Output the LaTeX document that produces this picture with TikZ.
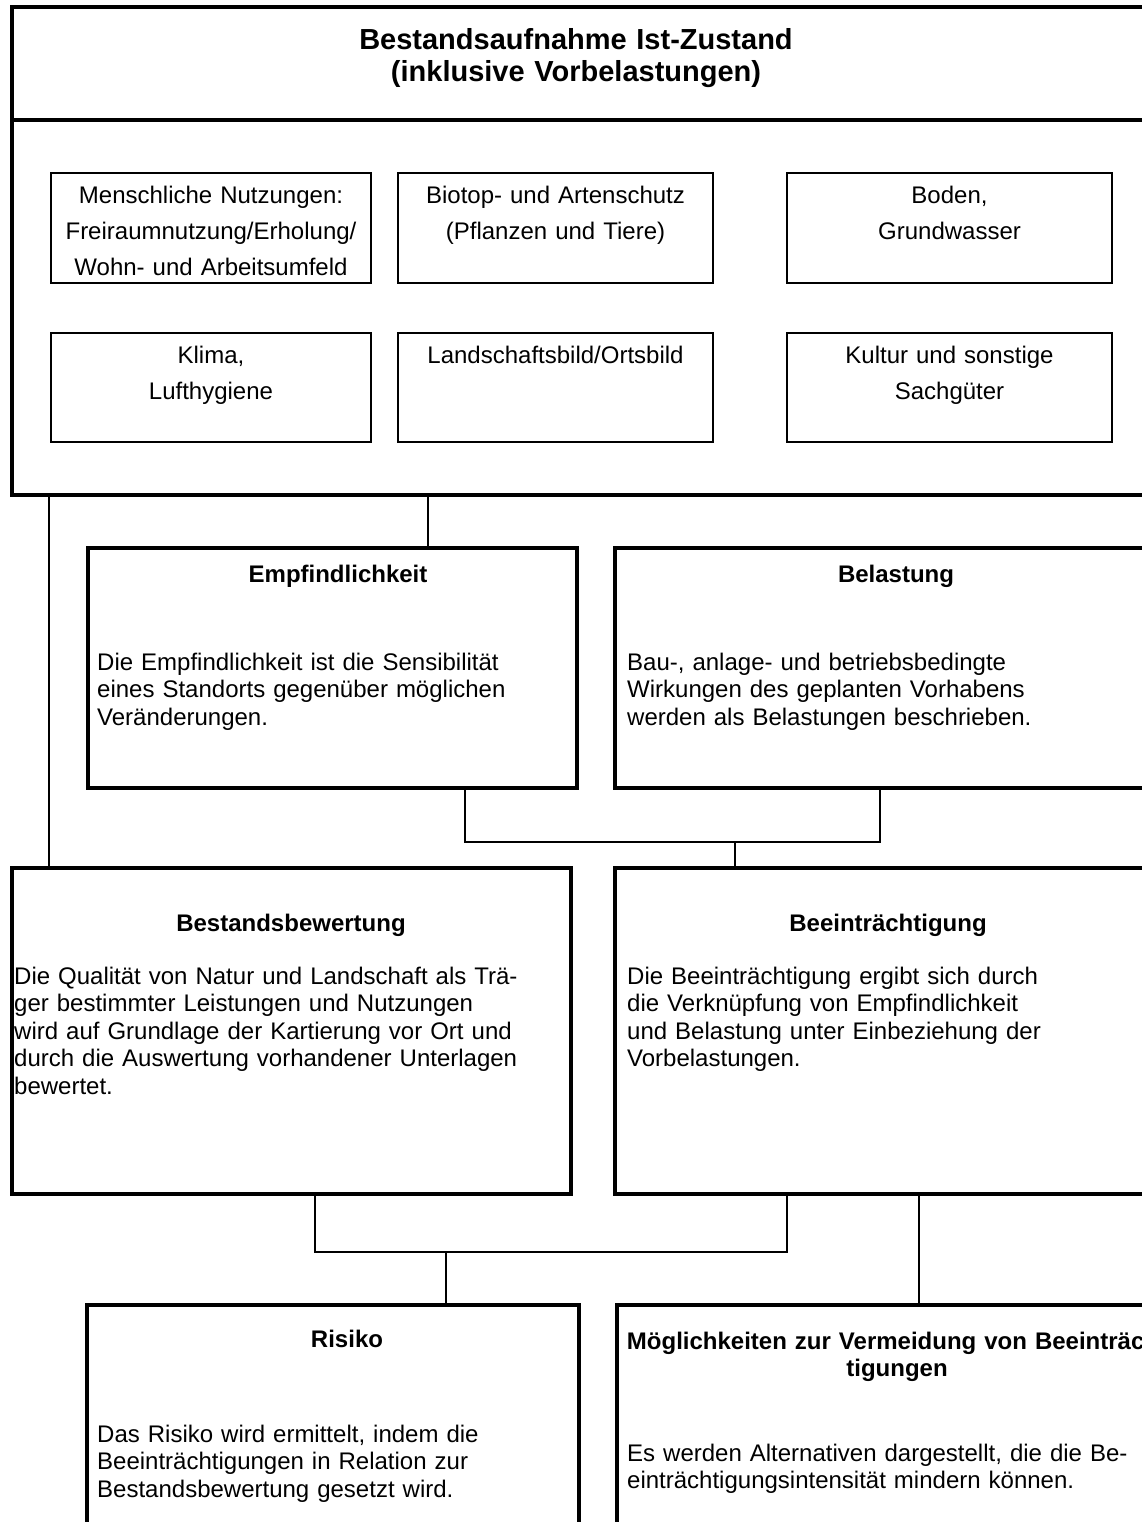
\documentclass[tikz,border=0pt]{standalone}
\usepackage{fontspec}
\setmainfont{Liberation Sans}
\begin{document}
\begin{tikzpicture}[x=1pt,y=-1pt,
  thickbox/.style={draw, line width=3.5pt, inner sep=0pt, outer sep=0pt, anchor=north west},
  thinbox/.style={draw, line width=1.6pt, inner sep=0pt, outer sep=0pt, anchor=north west},
  conn/.style={line width=1.8pt},
  titletext/.style={font=\bfseries\fontsize{29}{32}\selectfont, align=center, text width=800pt, inner sep=0pt, anchor=base},
  smalltext/.style={font=\fontsize{24}{36}\selectfont, align=center, text width=310pt, inner sep=0pt, anchor=base},
  headtext/.style={font=\bfseries\fontsize{24}{27.5}\selectfont, align=center, text width=700pt, inner sep=0pt, anchor=base},
  bodytext/.style={font=\fontsize{24}{27.5}\selectfont, align=left, text width=600pt, inner sep=0pt, anchor=base west}
]
\useasboundingbox (0,0) rectangle (1142,1522);
\clip (0,0) rectangle (1142,1522);
\fill[white] (0,0) rectangle (1142,1522);

% outer frame
\node[thickbox, minimum width=1134pt, minimum height=113pt] (hdr) at (12,7) {};
\node[thickbox, minimum width=1134pt, minimum height=375pt] (low) at (12,120) {};
\node[titletext] (title) at (576,50) {Bestandsaufnahme Ist-Zustand\\(inklusive Vorbelastungen)};

% small boxes
\node[thinbox, minimum width=320pt, minimum height=110pt] (b1) at (51,173) {};
\node[thinbox, minimum width=315pt, minimum height=110pt] (b2) at (398,173) {};
\node[thinbox, minimum width=325pt, minimum height=110pt] (b3) at (787,173) {};
\node[thinbox, minimum width=320pt, minimum height=109pt] (b4) at (51,333) {};
\node[thinbox, minimum width=315pt, minimum height=109pt] (b5) at (398,333) {};
\node[thinbox, minimum width=325pt, minimum height=109pt] (b6) at (787,333) {};
\node[smalltext] (t1) at ([yshift=-31pt]b1.north) {Menschliche Nutzungen:\\Freiraumnutzung/Erholung/\\Wohn- und Arbeitsumfeld};
\node[smalltext] (t2) at ([yshift=-31pt]b2.north) {Biotop- und Artenschutz\\(Pflanzen und Tiere)};
\node[smalltext] (t3) at ([yshift=-31pt]b3.north) {Boden,\\Grundwasser};
\node[smalltext] (t4) at ([yshift=-30pt]b4.north) {Klima,\\Lufthygiene};
\node[smalltext] (t5) at ([yshift=-30pt]b5.north) {Landschaftsbild/Ortsbild};
\node[smalltext] (t6) at ([yshift=-30pt]b6.north) {Kultur und sonstige\\Sachgüter};

% level 2
\node[thickbox, minimum width=489pt, minimum height=240pt] (emp) at (88,548) {};
\node[thickbox, minimum width=570pt, minimum height=240pt] (bel) at (615,548) {};
\node[headtext] (emph) at (338,582) {Empfindlichkeit};
\node[bodytext] (empb) at (97,670) {Die Empfindlichkeit ist die Sensibilität\\eines Standorts gegenüber möglichen\\Veränderungen.};
\node[headtext] (belh) at (896,582) {Belastung};
\node[bodytext] (belb) at (627,670) {Bau-, anlage- und betriebsbedingte\\Wirkungen des geplanten Vorhabens\\werden als Belastungen beschrieben.};

% level 3
\node[thickbox, minimum width=559pt, minimum height=326pt] (bb) at (12,868) {};
\node[thickbox, minimum width=570pt, minimum height=326pt] (bei) at (615,868) {};
\node[headtext] (bbh) at (291,931) {Bestandsbewertung};
\node[bodytext] (bbb) at (14,984) {Die Qualität von Natur und Landschaft als Trä-\\ger bestimmter Leistungen und Nutzungen\\wird auf Grundlage der Kartierung vor Ort und\\durch die Auswertung vorhandener Unterlagen\\bewertet.};
\node[headtext] (beih) at (888,931) {Beeinträchtigung};
\node[bodytext] (beib) at (627,984) {Die Beeinträchtigung ergibt sich durch\\die Verknüpfung von Empfindlichkeit\\und Belastung unter Einbeziehung der\\Vorbelastungen.};

% level 4
\node[thickbox, minimum width=492pt, minimum height=300pt] (ris) at (87,1305) {};
\node[thickbox, minimum width=580pt, minimum height=300pt] (mog) at (617,1305) {};
\node[headtext] (rish) at (347,1347) {Risiko};
\node[bodytext] (risb) at (97,1442) {Das Risiko wird ermittelt, indem die\\Beeinträchtigungen in Relation zur\\Bestandsbewertung gesetzt wird.};
\node[headtext] (mogh) at (897,1349) {Möglichkeiten zur Vermeidung von Beeinträch-\\tigungen};
\node[bodytext] (mogb) at (627,1461) {Es werden Alternativen dargestellt, die die Be-\\einträchtigungsintensität mindern können.};

% connector coordinates
\coordinate (xa) at (49,0);
\coordinate (xb) at (428,0);
\coordinate (xc) at (465,0);
\coordinate (xd) at (880,0);
\coordinate (xe) at (735,0);
\coordinate (ya) at (0,842);
\coordinate (xf) at (315,0);
\coordinate (xg) at (787,0);
\coordinate (xh) at (446,0);
\coordinate (yb) at (0,1252);
\coordinate (xi) at (919,0);

\draw[conn] (xa |- low.south) -- (xa |- bb.north);
\draw[conn] (xb |- low.south) -- (xb |- emp.north);
\draw[conn] (xc |- emp.south) -- (xc |- ya) -- (xd |- ya) -- (xd |- bel.south);
\draw[conn] (xe |- ya) -- (xe |- bei.north);
\draw[conn] (xf |- bb.south) -- (xf |- yb) -- (xg |- yb) -- (xg |- bei.south);
\draw[conn] (xh |- yb) -- (xh |- ris.north);
\draw[conn] (xi |- bei.south) -- (xi |- mog.north);
\end{tikzpicture}
\end{document}
